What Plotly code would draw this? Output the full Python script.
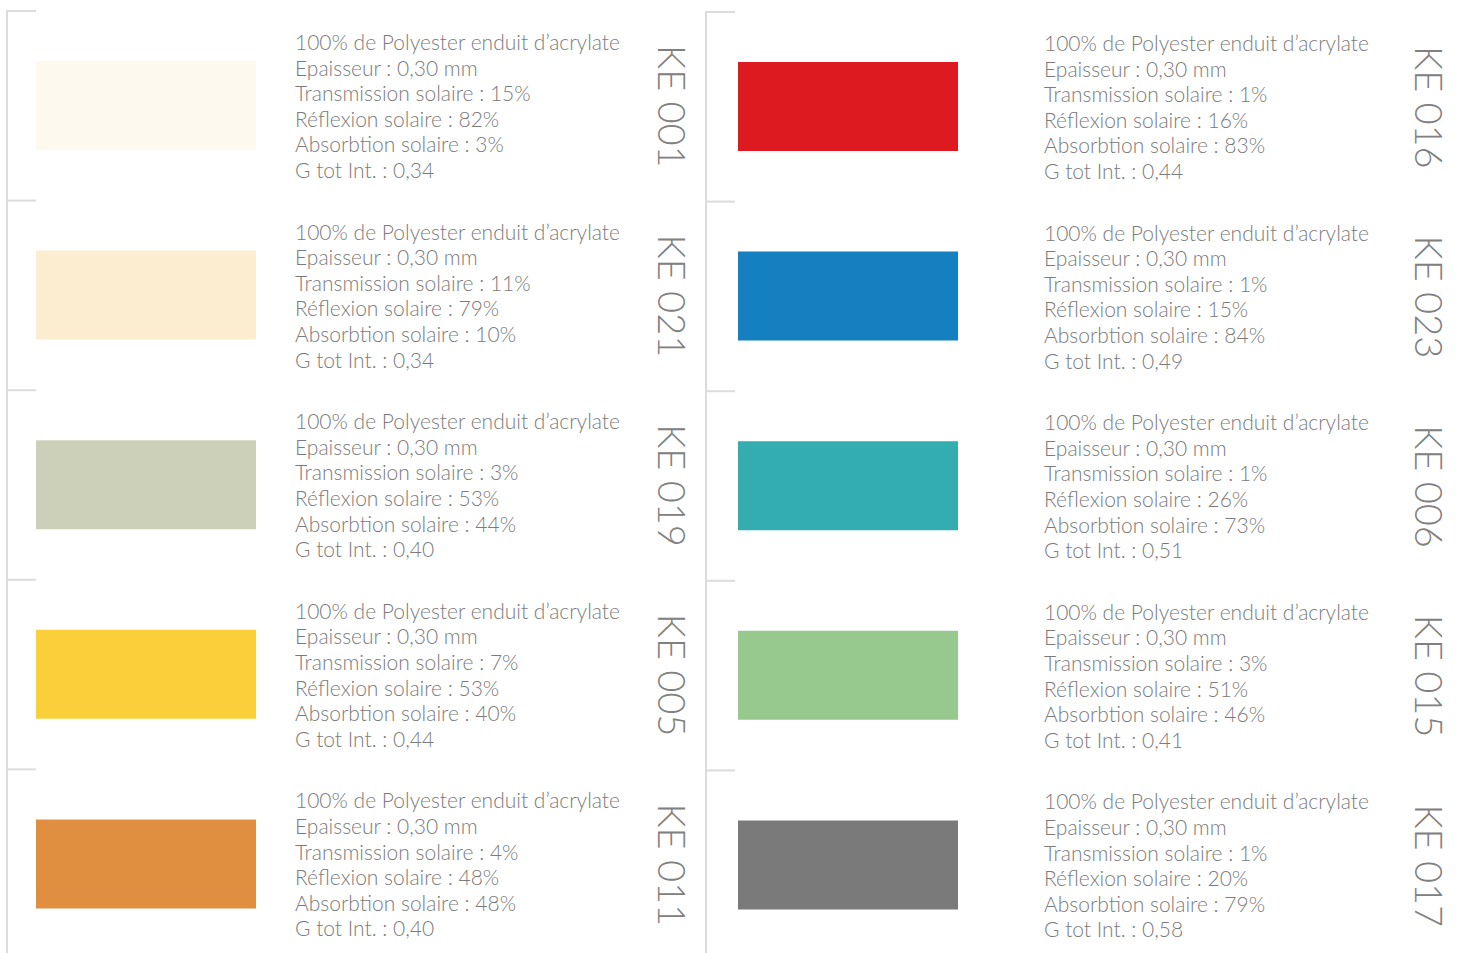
import plotly.graph_objects as go

# ---- data ----
codes = ["KE 001", "KE 021", "KE 019", "KE 005", "KE 011",
         "KE 016", "KE 023", "KE 006", "KE 015", "KE 017"]
swatch_colors = ["#FDF9EE", "#FDEDD0", "#CDD0B8", "#FBCF3A", "#E08F41",
                 "#DC1A1F", "#1480C0", "#33ADB0", "#97C88D", "#7A7A7A"]
material = "100% de Polyester enduit d\u2019acrylate"
thickness = ["0,30"] * 10
transmission = [15, 11, 3, 7, 4, 1, 1, 1, 3, 1]
reflexion = [82, 79, 53, 53, 48, 16, 15, 26, 51, 20]
absorption = [3, 10, 44, 40, 48, 83, 84, 73, 46, 79]
gtot = ["0,34", "0,34", "0,40", "0,44", "0,40",
        "0,44", "0,49", "0,51", "0,41", "0,58"]

W, H = 1462, 953
TEXT_COLOR = "#7b7b7b"
LINE_COLOR = "#dcdcdc"
FONT = "Lato"

fig = go.Figure()
fig.add_trace(go.Scatter(x=[0], y=[0], mode="markers",
                         marker=dict(opacity=0), hoverinfo="skip", showlegend=False))

shapes = []
annotations = []

col_x0 = [7, 706]          # frame line x
row_pitch = 189.6
row_start = [61, 62]

for col in range(2):
    fx = col_x0[col]
    top0 = row_start[col]
    # vertical frame line
    shapes.append(dict(type="line", x0=fx, x1=fx, y0=top0 - 51, y1=H,
                       line=dict(color=LINE_COLOR, width=2)))
    for r in range(5):
        i = col * 5 + r
        top = top0 + r * row_pitch
        # tick
        shapes.append(dict(type="line", x0=fx, x1=fx + 29, y0=top - 50, y1=top - 50,
                           line=dict(color=LINE_COLOR, width=2)))
        # swatch
        sx = fx + 29 if col == 0 else fx + 32
        shapes.append(dict(type="rect", x0=sx, x1=sx + 220, y0=top, y1=top + 89,
                           fillcolor=swatch_colors[i], line=dict(width=0), layer="below"))
        # text lines
        lines = [material,
                 f"Epaisseur : {thickness[i]} mm",
                 f"Transmission solaire : {transmission[i]}%",
                 f"Réflexion solaire : {reflexion[i]}%",
                 f"Absorbtion solaire : {absorption[i]}%",
                 f"G tot Int. : {gtot[i]}"]
        tx = fx + 286 if col == 0 else fx + 336
        for k, t in enumerate(lines):
            annotations.append(dict(x=tx, y=top - 19.5 + k * 25.6, text=t, showarrow=False,
                                    xanchor="left", yanchor="middle",
                                    font=dict(family=FONT, size=21, color=TEXT_COLOR, weight=300)))
        # rotated code
        cx = fx + 666 if col == 0 else fx + 724
        annotations.append(dict(x=cx, y=top + 45, text=codes[i], showarrow=False,
                                textangle=90, xanchor="center", yanchor="middle",
                                font=dict(family=FONT, size=38, color="#808080", weight=300)))

fig.update_layout(
    width=W, height=H,
    margin=dict(l=0, r=0, t=0, b=0),
    paper_bgcolor="white", plot_bgcolor="white",
    xaxis=dict(range=[0, W], visible=False, fixedrange=True),
    yaxis=dict(range=[H, 0], visible=False, fixedrange=True),
    shapes=shapes, annotations=annotations,
    showlegend=False,
)

fig.write_html("out.html", config={"displayModeBar": False},
               post_script="document.body.style.margin='0';document.body.style.overflow='hidden';")
